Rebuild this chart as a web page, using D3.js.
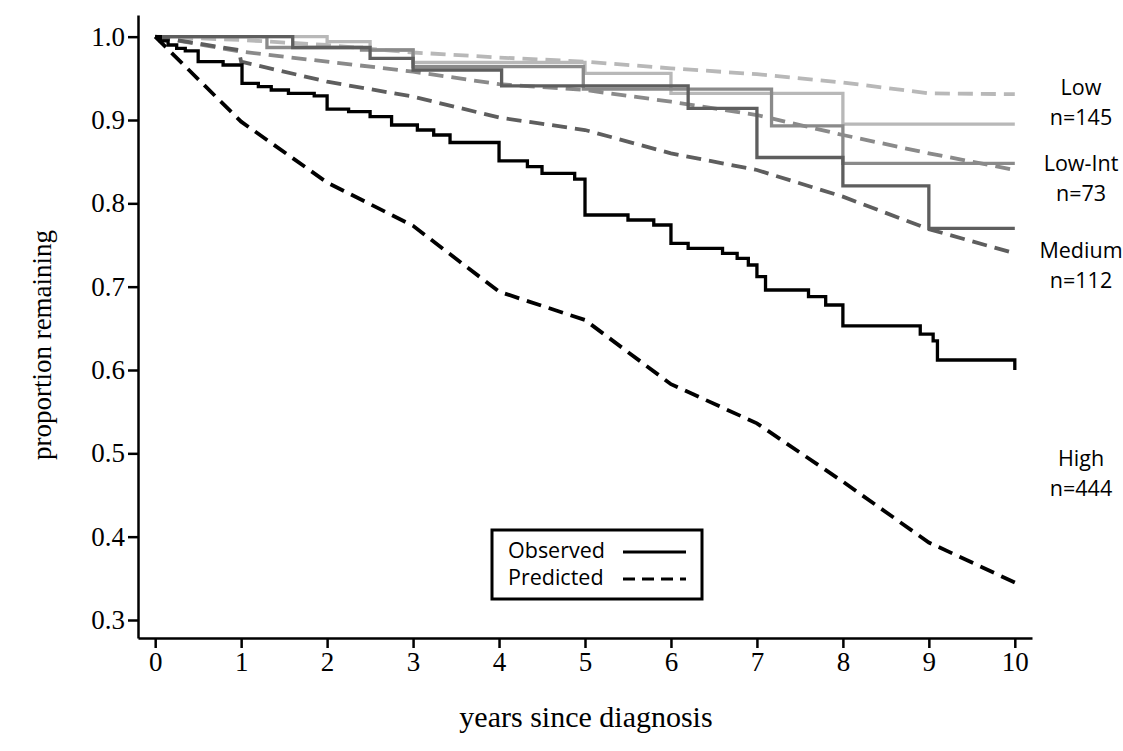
<!DOCTYPE html>
<html>
<head>
<meta charset="utf-8">
<script src="https://cdn.jsdelivr.net/npm/d3@7"></script>
<style>
  body { margin: 0; background: #fff; }
  .axis text { font-family: "Liberation Serif", "Times New Roman", serif; font-size: 27px; fill: #000; }
  .axis path, .axis line { stroke: #000; stroke-width: 2.5; }
  .lbl { font-family: "Open Sans", "Noto Sans", sans-serif; font-size: 21.5px; fill: #000; }
</style>
</head>
<body>
<svg width="1123" height="751"></svg>
<script>
var screen = {width:1123, height:751}

// tick values
var xTicks = [0,1,2,3,4,5,6,7,8,9,10]
var yTicks = [0.3,0.4,0.5,0.6,0.7,0.8,0.9,1.0]

// observed (Kaplan-Meier steps): [year, proportion]
var lowObs = [[0,1],[2.0,0.994],[2.5,0.984],[3.0,0.969],[5.0,0.956],[6.0,0.932],[8.0,0.895],[10,0.895]]
var lowIntObs = [[0,1],[1.3,0.987],[2.4,0.984],[3.0,0.964],[4.98,0.937],[7.17,0.893],[8.0,0.848],[10,0.848]]
var mediumObs = [[0,1],[1.6,0.987],[2.5,0.974],[3.0,0.960],[4.03,0.941],[6.2,0.914],[7.0,0.855],[8.0,0.821],[9.0,0.770],[10,0.770]]
var highObs = [[0,1],[0.06,0.995],[0.15,0.990],[0.25,0.986],[0.35,0.983],[0.5,0.970],[0.79,0.966],[1.01,0.944],
  [1.2,0.940],[1.35,0.936],[1.55,0.932],[1.85,0.929],[2.0,0.913],[2.25,0.910],[2.5,0.904],[2.75,0.894],
  [3.05,0.888],[3.24,0.882],[3.43,0.873],[4.0,0.851],[4.33,0.844],[4.5,0.836],[4.88,0.829],[5.0,0.786],
  [5.5,0.780],[5.8,0.774],[6.0,0.752],[6.2,0.746],[6.6,0.740],[6.77,0.734],[6.9,0.726],[7.0,0.712],
  [7.1,0.696],[7.6,0.688],[7.8,0.678],[8.0,0.653],[8.9,0.643],[9.05,0.635],[9.1,0.612],[9.98,0.612],[10,0.600]]

// predicted curves
var lowPred = [[0,1],[1,0.996],[2,0.990],[3,0.981],[4,0.975],[5,0.970],[6,0.962],[7,0.955],[8,0.945],[9,0.932],[10,0.931]]
var lowIntPred = [[0,1],[1,0.982],[2,0.970],[3,0.958],[4,0.943],[5,0.936],[6,0.922],[7,0.906],[8,0.882],[9,0.860],[10,0.840]]
var mediumPred = [[0,1],[0.97,0.984],[1.0,0.970],[2,0.946],[3,0.928],[4,0.903],[5,0.888],[6,0.860],[7,0.840],[8,0.808],[9,0.769],[10,0.740]]
var highPred = [[0,1],[1,0.898],[2,0.825],[3,0.773],[4,0.694],[5,0.660],[6,0.583],[7,0.536],[8,0.466],[9,0.393],[10,0.345]]

var groups = ["Low","Low-Int","Medium","High"]
var groupN = ["n=145","n=73","n=112","n=444"]
var groupColors = ["#b8b8b8","#8a8a8a","#5e5e5e","#000000"]
var observed = [lowObs, lowIntObs, mediumObs, highObs]
var predicted = [lowPred, lowIntPred, mediumPred, highPred]

var svg = d3.select("svg")

var xScale = d3.scaleLinear()
  .domain([-0.2,10.2])
  .range([138,1032])

var yScale = d3.scaleLinear()
  .domain([0.2784,1.026])
  .range([638,15])

// axes
var xAxis = d3.axisBottom(xScale).tickValues(xTicks).tickSize(10).tickSizeOuter(0).tickPadding(4)
var yAxis = d3.axisLeft(yScale).tickValues(yTicks).tickSize(10).tickSizeOuter(0).tickPadding(3)
  .tickFormat(d3.format(".1f"))

svg.append("g")
  .attr("class","axis")
  .attr("transform","translate(0,638)")
  .call(xAxis)

svg.append("g")
  .attr("class","axis")
  .attr("transform","translate(138,0)")
  .call(yAxis)

var stepLine = d3.line()
  .x(function(d){return xScale(d[0])})
  .y(function(d){return yScale(d[1])})
  .curve(d3.curveStepAfter)

var smoothLine = d3.line()
  .x(function(d){return xScale(d[0])})
  .y(function(d){return yScale(d[1])})

// draw lightest first so black sits on top
groups.forEach(function(g,i)
{
  svg.append("path")
    .datum(predicted[i])
    .attr("d",smoothLine)
    .attr("fill","none")
    .attr("stroke",groupColors[i])
    .attr("stroke-width",3.8)
    .attr("stroke-dasharray","15,8")

  svg.append("path")
    .datum(observed[i])
    .attr("d",stepLine)
    .attr("fill","none")
    .attr("stroke",groupColors[i])
    .attr("stroke-width",3.3)
})

// group labels on the right
var labelY = [87,163,250,458]
groups.forEach(function(g,i)
{
  var t = svg.append("text")
    .attr("class","lbl")
    .attr("text-anchor","middle")
    .attr("x",1081)
    .attr("y",labelY[i])
  t.append("tspan").attr("x",1081).attr("dy","0.35em").text(g)
  t.append("tspan").attr("x",1081).attr("dy","1.4em").text(groupN[i])
})

// legend
var legend = svg.append("g")
legend.append("rect")
  .attr("x",492).attr("y",530)
  .attr("width",210).attr("height",69)
  .attr("fill","#fff")
  .attr("stroke","#000")
  .attr("stroke-width",3)

var legendItems = [["Observed",null,550],["Predicted","12,7",577]]
legendItems.forEach(function(item)
{
  legend.append("text")
    .attr("class","lbl")
    .attr("x",508)
    .attr("y",item[2])
    .attr("dy","0.35em")
    .text(item[0])
  legend.append("line")
    .attr("x1",623).attr("x2",686)
    .attr("y1",item[2]+2).attr("y2",item[2]+2)
    .attr("stroke","#000")
    .attr("stroke-width",3)
    .attr("stroke-dasharray",item[1])
})

// axis titles
svg.append("text")
  .attr("x",586).attr("y",716)
  .attr("dy","0.35em")
  .attr("text-anchor","middle")
  .style("font-family","'Liberation Serif', serif")
  .style("font-size","30px")
  .text("years since diagnosis")

svg.append("text")
  .attr("transform","translate(42,345) rotate(-90)")
  .attr("dy","0.35em")
  .attr("text-anchor","middle")
  .style("font-family","'Liberation Serif', serif")
  .style("font-size","27px")
  .text("proportion remaining")
</script>
</body>
</html>
